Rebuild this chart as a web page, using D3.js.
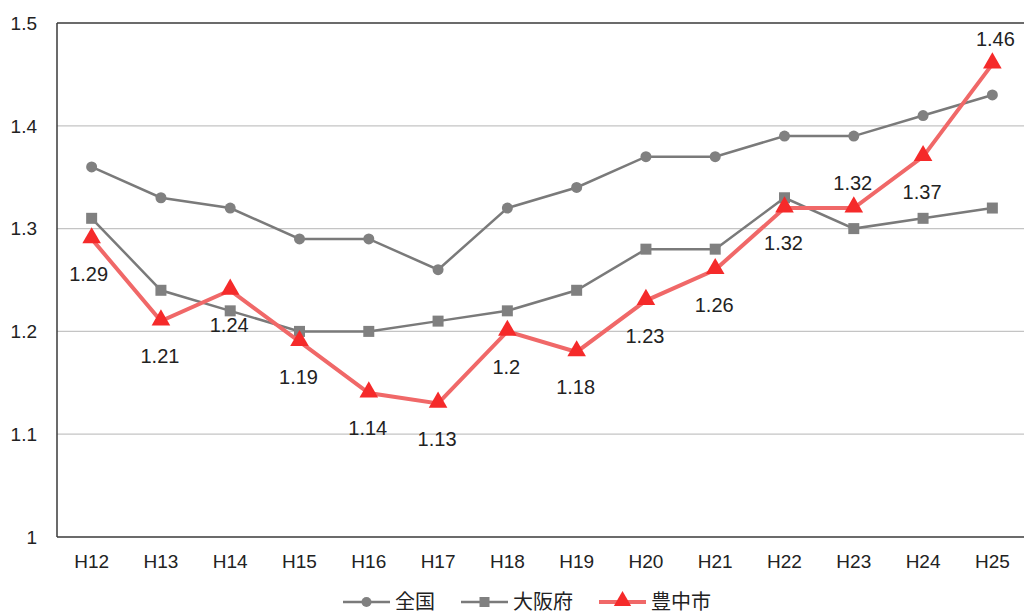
<!DOCTYPE html>
<html><head><meta charset="utf-8">
<script src="https://cdn.jsdelivr.net/npm/d3@7/dist/d3.min.js"></script>
<style>body{margin:0;background:#fff;}svg{display:block;}</style>
</head><body>
<svg id="c" width="1024" height="614"></svg>
<script>
const categories = ["H12","H13","H14","H15","H16","H17","H18","H19","H20","H21","H22","H23","H24","H25"];
const zenkoku = [1.36,1.33,1.32,1.29,1.29,1.26,1.32,1.34,1.37,1.37,1.39,1.39,1.41,1.43];
const osakafu = [1.31,1.24,1.22,1.20,1.20,1.21,1.22,1.24,1.28,1.28,1.33,1.30,1.31,1.32];
const toyonaka = [1.29,1.21,1.24,1.19,1.14,1.13,1.20,1.18,1.23,1.26,1.32,1.32,1.37,1.46];
const toyonakaLabels = ["1.29","1.21","1.24","1.19","1.14","1.13","1.2","1.18","1.23","1.26","1.32","1.32","1.37","1.46"];
const labelSide = ["below","below","below","below","below","below","below","below","below","below","below","above","below","above"];
const yTicks = [1,1.1,1.2,1.3,1.4,1.5];
const yTickLabels = ["1","1.1","1.2","1.3","1.4","1.5"];
const seriesNames = ["全国","大阪府","豊中市"];

const svg = d3.select("#c");
const L = 57, R = 1027, T = 23, B = 537;
const x = d3.scaleBand().domain(categories).range([L, R]);
const y = d3.scaleLinear().domain([1, 1.5]).range([B, T]);
const cx = d => x(d) + x.bandwidth()/2;
const font = "'Liberation Sans', Arial, sans-serif";
const cjk = "'Noto Sans CJK JP', sans-serif";

// gridlines
svg.append("g").selectAll("line").data(yTicks.filter(v => v > 1 && v < 1.5)).join("line")
  .attr("x1", L).attr("x2", 1024).attr("y1", d => y(d)).attr("y2", d => y(d))
  .attr("stroke", "#c4c4c4").attr("stroke-width", 1.2);

// frame
svg.append("line").attr("x1", L).attr("x2", 1024).attr("y1", T).attr("y2", T).attr("stroke", "#3a3a3a").attr("stroke-width", 1.5);
svg.append("line").attr("x1", L).attr("x2", 1024).attr("y1", B).attr("y2", B).attr("stroke", "#3a3a3a").attr("stroke-width", 1.5);
svg.append("line").attr("x1", L).attr("x2", L).attr("y1", T).attr("y2", B).attr("stroke", "#3a3a3a").attr("stroke-width", 1.5);

// y axis labels
svg.append("g").selectAll("text").data(yTicks).join("text")
  .attr("x", 37).attr("y", d => y(d)).attr("dy", "0.36em")
  .attr("text-anchor", "end").attr("font-family", font).attr("font-size", 19).attr("fill", "#222")
  .text((d, i) => yTickLabels[i]);

// x axis labels
svg.append("g").selectAll("text").data(categories).join("text")
  .attr("x", d => cx(d)).attr("y", 568)
  .attr("text-anchor", "middle").attr("font-family", font).attr("font-size", 19).attr("fill", "#222")
  .text(d => d);

const line = d3.line().x((d, i) => cx(categories[i])).y(d => y(d));

// 全国
svg.append("path").datum(zenkoku).attr("d", line).attr("fill", "none").attr("stroke", "#7a7a7a").attr("stroke-width", 2.5);
svg.append("g").selectAll("circle").data(zenkoku).join("circle")
  .attr("cx", (d, i) => cx(categories[i])).attr("cy", d => y(d)).attr("r", 5.5).attr("fill", "#808080");

// 大阪府
svg.append("path").datum(osakafu).attr("d", line).attr("fill", "none").attr("stroke", "#7a7a7a").attr("stroke-width", 2.5);
svg.append("g").selectAll("rect").data(osakafu).join("rect")
  .attr("x", (d, i) => cx(categories[i]) - 5.5).attr("y", d => y(d) - 5.5).attr("width", 11).attr("height", 11).attr("fill", "#808080");

// 豊中市
svg.append("path").datum(toyonaka).attr("d", line).attr("fill", "none").attr("stroke", "#f06868").attr("stroke-width", 4);
const tri = d3.symbol().type(d3.symbolTriangle).size(150);
svg.append("g").selectAll("path").data(toyonaka).join("path")
  .attr("d", tri).attr("transform", (d, i) => `translate(${cx(categories[i])},${y(d) - 1})`).attr("fill", "#f52a2a");

// labels
svg.append("g").selectAll("text").data(toyonaka).join("text")
  .attr("x", (d, i) => cx(categories[i]) + (i === 0 ? -3 : (i === 13 ? 3 : -1)))
  .attr("y", (d, i) => y(d) + (labelSide[i] === "below" ? 35 : -25)).attr("dy", "0.36em")
  .attr("text-anchor", "middle").attr("font-family", font).attr("font-size", 20).attr("fill", "#222")
  .text((d, i) => toyonakaLabels[i]);

// legend
const leg = svg.append("g");
let lx = 343;
const ly = 602;
seriesNames.forEach((name, i) => {
  const col = i === 2 ? "#f06868" : "#7a7a7a";
  leg.append("line").attr("x1", lx).attr("x2", lx + 47).attr("y1", ly).attr("y2", ly)
    .attr("stroke", col).attr("stroke-width", i === 2 ? 4 : 2.5);
  const mx = lx + 23.5;
  if (i === 0) leg.append("circle").attr("cx", mx).attr("cy", ly).attr("r", 5).attr("fill", "#808080");
  if (i === 1) leg.append("rect").attr("x", mx - 5).attr("y", ly - 5).attr("width", 10).attr("height", 10).attr("fill", "#808080");
  if (i === 2) leg.append("path").attr("d", d3.symbol().type(d3.symbolTriangle).size(130)).attr("transform", `translate(${mx},${ly - 1})`).attr("fill", "#f52a2a");
  const t = leg.append("text").attr("x", lx + 52).attr("y", ly).attr("dy", "0.36em")
    .attr("font-family", cjk).attr("font-size", 20).attr("fill", "#222").text(name);
  lx += 52 + t.node().getComputedTextLength() + 26;
});
</script>
</body></html>
